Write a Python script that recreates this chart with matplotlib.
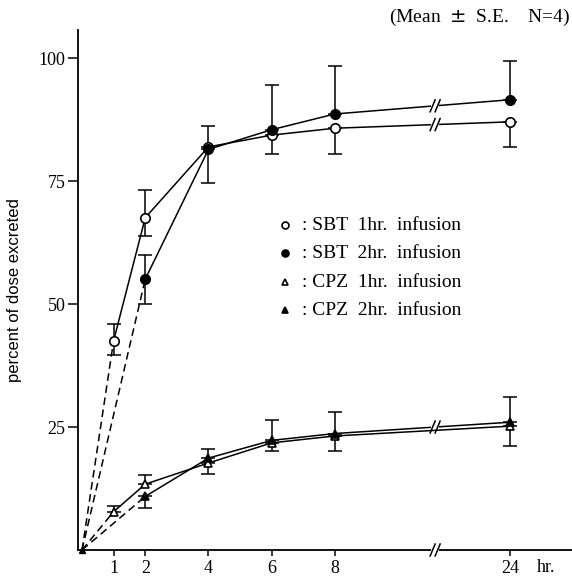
import numpy as np
import matplotlib
matplotlib.use("Agg")
import matplotlib.pyplot as plt

# time points (hr.) and mean percent of dose excreted, with S.E.
sbt1_t = [1, 2, 4, 6, 8, 24]
sbt1_y = [42.6, 67.6, 82.0, 84.4, 85.8, 87.1]
sbt1_lo = [3.0, 3.8, 0, 3.9, 5.3, 5.2]
sbt1_hi = [3.3, 5.7, 4.3, 0, 0, 0]

sbt2_t = [2, 4, 6, 8, 24]
sbt2_y = [55.1, 81.5, 85.5, 88.7, 91.6]
sbt2_lo = [5.0, 6.8, 0, 0, 0]
sbt2_hi = [5.0, 0, 9.0, 9.8, 7.9]

cpz1_t = [1, 2, 4, 6, 8, 24]
cpz1_y = [7.8, 13.4, 17.7, 21.8, 23.2, 25.2]
cpz1_lo = [0, 0, 2.2, 1.6, 3.1, 4.1]
cpz1_hi = [1.2, 1.9, 0, 0, 0, 0]

cpz2_t = [2, 4, 6, 8, 24]
cpz2_y = [10.9, 18.7, 22.3, 23.7, 26.0]
cpz2_lo = [2.4, 0, 0, 0, 0]
cpz2_hi = [0, 1.9, 4.1, 4.4, 5.2]

x_ticks = [1, 2, 4, 6, 8, 24]
y_ticks = [25, 50, 75, 100]
legend_labels = [": SBT  1hr.  infusion", ": SBT  2hr.  infusion",
                 ": CPZ  1hr.  infusion", ": CPZ  2hr.  infusion"]

# broken time axis: 0-8 linear, 24 placed after the break
POS_24 = 13.55
BREAK_X = 11.17


def xpos(t):
    t = np.asarray(t, dtype=float)
    return np.where(t <= 8, t, POS_24)


serif = "Liberation Serif"
fig = plt.figure(figsize=(5.72, 5.76), dpi=100)
ax = fig.add_axes([0.1364, 0.0451, 0.8636, 0.903])
XMIN, XMAX, YMAX = -0.127, 15.5, 105.8
ax.set_xlim(XMIN, XMAX)
ax.set_ylim(0, YMAX)

# px -> data scale for break marks
dxp = (XMAX - XMIN) / (0.8636 * 572)
dyp = YMAX / (0.903 * 576)


def break_mark(x, y, zorder=5):
    ax.plot([x - 4 * dxp, x + 4 * dxp], [y, y], color="white", lw=3,
            zorder=zorder, solid_capstyle="butt")
    for off in (-2.5, 2.5):
        ax.plot([x + (off - 2.5) * dxp, x + (off + 2.5) * dxp],
                [y - 6 * dyp, y + 6 * dyp], color="black", lw=1.1,
                zorder=zorder + 1)


series = [
    (sbt1_t, sbt1_y, sbt1_lo, sbt1_hi, "o", "white", 6.8),
    (sbt2_t, sbt2_y, sbt2_lo, sbt2_hi, "o", "black", 6.8),
    (cpz1_t, cpz1_y, cpz1_lo, cpz1_hi, "^", "white", 6),
    (cpz2_t, cpz2_y, cpz2_lo, cpz2_hi, "^", "black", 6),
]

for t, y, lo, hi, m, fc, ms in series:
    xp = xpos(t)
    # dashed line from origin during infusion
    ax.plot([0, xp[0]], [0, y[0]], color="black", lw=1.1, ls=(0, (5, 3)),
            zorder=2)
    ax.errorbar(xp, y, yerr=[lo, hi], fmt="none", ecolor="black",
                elinewidth=1.1, capsize=5, capthick=1.1, zorder=3)
    ax.plot(xp, y, color="black", lw=1.1, marker=m, mfc=fc, mec="black",
            mew=1.2, ms=ms, zorder=4)
    # break marks on the line between 8 and 24
    yb = np.interp(BREAK_X, [xp[-2], xp[-1]], [y[-2], y[-1]])
    if m == "o":
        break_mark(BREAK_X, yb)

# one break for the overlapping CPZ lines
yb = np.interp(BREAK_X, [8, POS_24], [cpz2_y[-2], cpz2_y[-1]])
break_mark(BREAK_X, yb)

# origin point
ax.plot([0], [0], marker="^", color="black", ms=5, zorder=4)

# axes styling
for s in ("top", "right"):
    ax.spines[s].set_visible(False)
ax.spines["left"].set_linewidth(1.3)
ax.spines["bottom"].set_linewidth(1.3)
ax.set_xticks(xpos(x_ticks))
ax.set_xticklabels([str(v) for v in x_ticks], fontfamily=serif, fontsize=13)
ax.set_yticks(y_ticks)
ax.set_yticklabels([str(v) for v in y_ticks], fontfamily=serif, fontsize=13)
ax.tick_params(axis="x", direction="out", length=4, width=1.1, pad=3)
ax.tick_params(axis="y", direction="out", length=7, width=1.1, pad=2)
break_mark(BREAK_X, 0, zorder=6)
for l in ax.lines:
    l.set_clip_on(False)

ax.text(14.4, -1.9, "hr.", fontfamily=serif, fontsize=13, ha="left",
        va="top")
ax.set_ylabel("percent of dose excreted", fontfamily="Liberation Sans",
              fontsize=12, labelpad=12)
fig.text(0.997, 0.988, "(Mean  $\\pm$  S.E.    N=4)", fontfamily=serif,
         fontsize=14, ha="right", va="top")

# legend drawn as markers and text
leg_y = [66.1, 60.4, 54.5, 48.8]
for (t, y, lo, hi, m, fc, ms), lab, ly in zip(series, legend_labels, leg_y):
    ax.plot([6.42], [ly], marker=m, mfc=fc, mec="black", mew=1.2,
            ms=ms - 1.8, ls="none")
    ax.text(6.95, ly, lab, fontfamily=serif, fontsize=14, va="center",
            ha="left")

fig.savefig("out.png", dpi=100)
